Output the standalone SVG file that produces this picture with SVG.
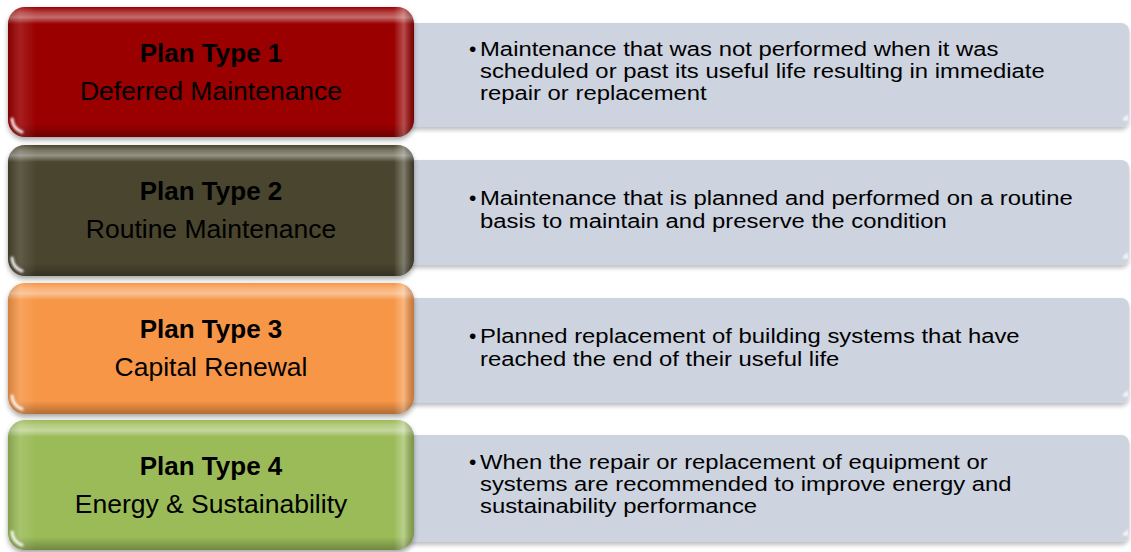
<svg xmlns="http://www.w3.org/2000/svg" width="1131" height="552" viewBox="0 0 1131 552">
  <style>
    .title { font-family: "Liberation Sans", Arial, sans-serif; font-size: 26px; font-weight: bold; fill: #000; text-anchor: middle; }
    .name { font-family: "Liberation Sans", Arial, sans-serif; font-size: 26.5px; fill: #000; text-anchor: middle; }
    .desc { font-family: "Liberation Sans", Arial, sans-serif; font-size: 21px; fill: #000; }
    .panel { fill: #CDD3DF; filter: url(#soft); }
    .tab { filter: url(#drop); }
    .glossV { fill: url(#bevelV); }
    .glossH { fill: url(#bevelH); }
    .spark { fill: none; stroke: #fff; stroke-width: 3; stroke-linecap: round; opacity: 0.9; filter: url(#blur1); }
    .glint { fill: #fff; opacity: 0.85; filter: url(#blur1); }
  </style>
  <defs>
    <linearGradient id="bevelV" x1="0" y1="0" x2="0" y2="1">
      <stop offset="0" stop-color="#fff" stop-opacity="0"/>
      <stop offset="0.04" stop-color="#fff" stop-opacity="0.25"/>
      <stop offset="0.08" stop-color="#fff" stop-opacity="0.42"/>
      <stop offset="0.13" stop-color="#fff" stop-opacity="0"/>
      <stop offset="0.9" stop-color="#000" stop-opacity="0"/>
      <stop offset="1" stop-color="#000" stop-opacity="0.28"/>
    </linearGradient>
    <linearGradient id="bevelH" x1="0" y1="0" x2="1" y2="0">
      <stop offset="0" stop-color="#000" stop-opacity="0.15"/>
      <stop offset="0.03" stop-color="#fff" stop-opacity="0.12"/>
      <stop offset="0.07" stop-color="#fff" stop-opacity="0"/>
      <stop offset="0.95" stop-color="#fff" stop-opacity="0"/>
      <stop offset="0.975" stop-color="#fff" stop-opacity="0.3"/>
      <stop offset="1" stop-color="#000" stop-opacity="0.2"/>
    </linearGradient>
    <filter id="drop" x="-5%" y="-10%" width="110%" height="125%">
      <feDropShadow dx="0" dy="3" stdDeviation="2.5" flood-color="#000" flood-opacity="0.35"/>
    </filter>
    <filter id="soft" x="-5%" y="-10%" width="110%" height="130%">
      <feDropShadow dx="0" dy="3" stdDeviation="2" flood-color="#000" flood-opacity="0.25"/>
    </filter>
    <filter id="blur1" x="-50%" y="-50%" width="200%" height="200%">
      <feGaussianBlur stdDeviation="0.9"/>
    </filter>
  </defs>

  <!-- Plan type 1 -->
  <g id="plan1">
    <rect class="panel" x="400" y="23" width="729" height="104" rx="8"/>
    <path class="glint" d="M1122 120 l6 -6 v7 z"/>
    <text class="desc" x="469" y="56">•</text>
    <g transform="translate(480 0) scale(1.136 1)">
      <text class="desc" x="0" y="56">Maintenance that was not performed when it was</text>
      <text class="desc" x="0" y="78">scheduled or past its useful life resulting in immediate</text>
      <text class="desc" x="0" y="100">repair or replacement</text>
    </g>
    <g class="tab">
      <rect x="8" y="7" width="406" height="130" rx="17" fill="#9A0000"/>
    </g>
    <rect class="glossV" x="8" y="7" width="406" height="130" rx="17"/>
    <rect class="glossH" x="8" y="7" width="406" height="130" rx="17"/>
    <path class="spark" d="M12 119 Q13 129 22 132"/>
    <text class="title" x="211" y="62">Plan Type 1</text>
    <text class="name" x="211" y="100">Deferred Maintenance</text>
  </g>

  <!-- Plan type 2 -->
  <g id="plan2">
    <rect class="panel" x="400" y="160" width="729" height="105" rx="8"/>
    <path class="glint" d="M1122 258 l6 -6 v7 z"/>
    <text class="desc" x="469" y="205">•</text>
    <g transform="translate(480 0) scale(1.136 1)">
      <text class="desc" x="0" y="205">Maintenance that is planned and performed on a routine</text>
      <text class="desc" x="0" y="228">basis to maintain and preserve the condition</text>
    </g>
    <g class="tab">
      <rect x="8" y="145" width="406" height="131" rx="17" fill="#4A452F"/>
    </g>
    <rect class="glossV" x="8" y="145" width="406" height="131" rx="17"/>
    <rect class="glossH" x="8" y="145" width="406" height="131" rx="17"/>
    <path class="spark" d="M12 258 Q13 268 22 271"/>
    <text class="title" x="211" y="200">Plan Type 2</text>
    <text class="name" x="211" y="238">Routine Maintenance</text>
  </g>

  <!-- Plan type 3 -->
  <g id="plan3">
    <rect class="panel" x="400" y="298" width="729" height="105" rx="8"/>
    <path class="glint" d="M1122 396 l6 -6 v7 z"/>
    <text class="desc" x="469" y="343">•</text>
    <g transform="translate(480 0) scale(1.136 1)">
      <text class="desc" x="0" y="343">Planned replacement of building systems that have</text>
      <text class="desc" x="0" y="366">reached the end of their useful life</text>
    </g>
    <g class="tab">
      <rect x="8" y="283" width="406" height="131" rx="17" fill="#F79646"/>
    </g>
    <rect class="glossV" x="8" y="283" width="406" height="131" rx="17"/>
    <rect class="glossH" x="8" y="283" width="406" height="131" rx="17"/>
    <path class="spark" d="M12 396 Q13 406 22 409"/>
    <text class="title" x="211" y="338">Plan Type 3</text>
    <text class="name" x="211" y="376">Capital Renewal</text>
  </g>

  <!-- Plan type 4 -->
  <g id="plan4">
    <rect class="panel" x="400" y="435" width="729" height="107" rx="8"/>
    <path class="glint" d="M1122 535 l6 -6 v7 z"/>
    <text class="desc" x="469" y="469">•</text>
    <g transform="translate(480 0) scale(1.136 1)">
      <text class="desc" x="0" y="469">When the repair or replacement of equipment or</text>
      <text class="desc" x="0" y="491">systems are recommended to improve energy and</text>
      <text class="desc" x="0" y="513">sustainability performance</text>
    </g>
    <g class="tab">
      <rect x="8" y="420" width="406" height="130" rx="17" fill="#9BBB59"/>
    </g>
    <rect class="glossV" x="8" y="420" width="406" height="130" rx="17"/>
    <rect class="glossH" x="8" y="420" width="406" height="130" rx="17"/>
    <path class="spark" d="M12 532 Q13 542 22 545"/>
    <text class="title" x="211" y="475">Plan Type 4</text>
    <text class="name" x="211" y="513">Energy &amp; Sustainability</text>
  </g>
</svg>
